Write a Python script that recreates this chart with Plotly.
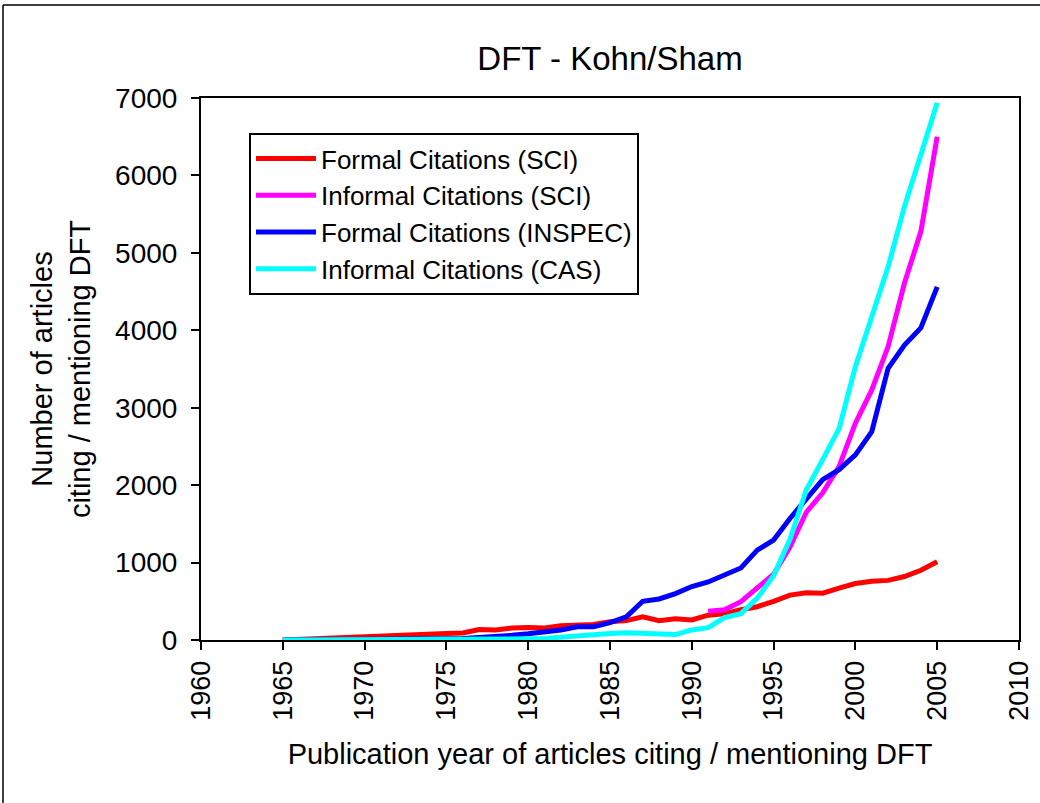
import plotly.graph_objects as go

years = list(range(1965, 2006))

formal_sci = [0, 10, 20, 30, 40, 50, 55, 55, 65, 75, 85, 90, 135, 130, 155, 160, 155, 185, 200, 200,
              235, 250, 300, 250, 275, 260, 320, 340, 390, 430, 500, 580, 610, 605, 670, 730, 760, 770,
              820, 900, 1010]

informal_sci_years = list(range(1991, 2006))
informal_sci = [370, 390, 495, 670, 850, 1200, 1650, 1900, 2240, 2800, 3230, 3790, 4610, 5275, 6500]

formal_inspec = [0, 0, 0, 0, 0, 5, 5, 5, 10, 10, 15, 20, 30, 40, 60, 80, 100, 130, 170, 170,
                 225, 300, 500, 530, 600, 690, 750, 840, 930, 1160, 1290, 1570, 1830, 2070, 2200,
                 2390, 2690, 3510, 3810, 4030, 4560]

informal_cas = [0, 0, 0, 0, 0, 5, 5, 5, 5, 5, 10, 10, 10, 10, 15, 15, 20, 40, 60, 75,
                85, 95, 85, 70, 70, 130, 160, 290, 340, 540, 830, 1300, 1940, 2330, 2730, 3530,
                4180, 4820, 5600, 6250, 6940]

FONT = "Liberation Sans, Arial, sans-serif"

fig = go.Figure()
fig.add_trace(go.Scatter(x=years, y=formal_sci, mode="lines", name="Formal Citations (SCI)",
                         line=dict(color="#FF0000", width=5)))
fig.add_trace(go.Scatter(x=informal_sci_years, y=informal_sci, mode="lines", name="Informal Citations (SCI)",
                         line=dict(color="#FF00FF", width=5)))
fig.add_trace(go.Scatter(x=years, y=formal_inspec, mode="lines", name="Formal Citations (INSPEC)",
                         line=dict(color="#0000FF", width=5)))
fig.add_trace(go.Scatter(x=years, y=informal_cas, mode="lines", name="Informal Citations (CAS)",
                         line=dict(color="#00FFFF", width=5)))

W, H = 1040, 803
L, R, T, B = 201, 21, 98, 163
pw, ph = W - L - R, H - T - B

def px(x):
    return (x - L) / pw

def py(y):
    return (H - B - y) / ph

fig.update_layout(
    width=W, height=H, autosize=False,
    margin=dict(l=L, r=R, t=T, b=B, autoexpand=False),
    paper_bgcolor="white", plot_bgcolor="white",
    font=dict(family=FONT, size=27, color="black"),
    title=dict(text="DFT - Kohn/Sham", x=(L + pw / 2) / W, xanchor="center",
               y=1 - 58 / H, yanchor="middle", font=dict(size=33)),
    showlegend=True,
    legend=dict(x=px(249), y=py(133), xanchor="left", yanchor="top",
                bordercolor="black", borderwidth=2, bgcolor="white",
                font=dict(size=26), tracegroupgap=0, itemwidth=60),
    xaxis=dict(range=[1960, 2010], tickmode="linear", tick0=1960, dtick=5,
               tickangle=-90, showgrid=False, zeroline=False, automargin=False,
               showline=True, linecolor="black", linewidth=2, mirror=True,
               ticks="outside", ticklen=8, tickwidth=2, tickcolor="black",
               tickfont=dict(size=27),
               title=dict(text="Publication year of articles citing / mentioning DFT",
                          font=dict(size=29), standoff=24)),
    yaxis=dict(range=[0, 7000], tickmode="linear", tick0=0, dtick=1000,
               showgrid=False, zeroline=False, automargin=False,
               showline=True, linecolor="black", linewidth=2, mirror=True,
               ticks="outside", ticklen=8, tickwidth=2, tickcolor="black",
               tickfont=dict(size=28), ticklabelstandoff=8,
               title=dict(text="Number of articles<br>citing / mentioning DFT",
                          font=dict(size=29), standoff=16)),
    shapes=[
        dict(type="line", xref="paper", yref="paper", x0=px(3), x1=px(1040), y0=py(5), y1=py(5),
             line=dict(color="black", width=1.5)),
        dict(type="line", xref="paper", yref="paper", x0=px(3), x1=px(3), y0=py(5), y1=py(803),
             line=dict(color="black", width=1.5)),
    ],
)

fig.write_html("out.html", config={"displayModeBar": False},
               post_script="document.body.style.margin='0';document.body.style.overflow='hidden';")
